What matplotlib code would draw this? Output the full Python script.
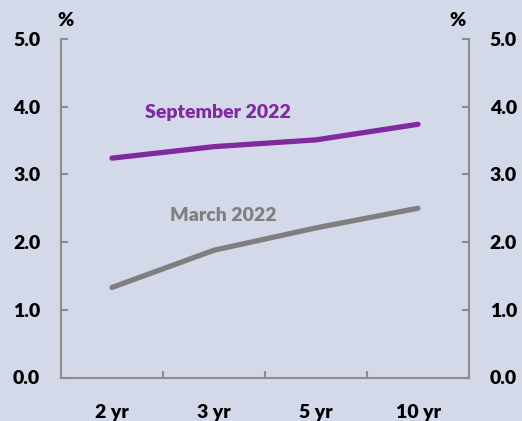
import matplotlib.pyplot as plt
import numpy as np

categories = ['2 yr', '3 yr', '5 yr', '10 yr']
sep_2022 = [3.24, 3.41, 3.51, 3.74]
mar_2022 = [1.33, 1.88, 2.21, 2.50]
yticks = [0, 1, 2, 3, 4, 5]

bg = '#d4d9ea'
purple = '#7f2a9f'
grey = '#7f7f7f'
axis_col = '#8c8c8c'

plt.rcParams['font.family'] = ['Lato', 'DejaVu Sans']
plt.rcParams['font.weight'] = 'heavy'

fig = plt.figure(figsize=(5.22, 4.21), dpi=100, facecolor=bg)
ax = fig.add_axes([61 / 522, 1 - 377.5 / 421, (469 - 61) / 522, (377.5 - 39) / 421])
ax.set_facecolor(bg)

x = np.arange(len(categories))
ax.plot(x, sep_2022, color=purple, lw=3.8, solid_capstyle='round')
ax.plot(x, mar_2022, color=grey, lw=3.8, solid_capstyle='round')

ax.set_xlim(-0.5, 3.5)
ax.set_ylim(0, 5)

ax.spines['top'].set_visible(False)
for s in ['left', 'right', 'bottom']:
    ax.spines[s].set_color(axis_col)
    ax.spines[s].set_linewidth(1.5)

ax.set_yticks(yticks, [f'{v:.1f}' for v in yticks])
ax.tick_params(axis='y', direction='in', length=5, width=1.5, color=axis_col,
               left=True, right=True, labelleft=True, labelright=True,
               labelsize=14, pad=15)
ax.set_xticks(x, categories)
ax.set_xticks([0.5, 1.5, 2.5], minor=True)
ax.tick_params(axis='x', which='major', length=0, labelsize=14, pad=19)
ax.tick_params(axis='x', which='minor', direction='in', length=5, width=1.5, color=axis_col)
for t in ax.yaxis.get_major_ticks():
    t.label1.set_fontweight('heavy')
    t.label2.set_fontweight('heavy')
for lab in ax.get_xticklabels():
    lab.set_fontweight('heavy')

ax.annotate('%', xy=(0, 1), xycoords='axes fraction', xytext=(3, 7),
            textcoords='offset points', ha='center', va='bottom',
            fontsize=14, fontweight='heavy')
ax.annotate('%', xy=(1, 1), xycoords='axes fraction', xytext=(-8, 7),
            textcoords='offset points', ha='center', va='bottom',
            fontsize=14, fontweight='heavy')

ax.text(1.04, 3.92, 'September 2022', color=purple, ha='center', va='center',
        fontsize=14, fontweight='heavy')
ax.text(1.09, 2.40, 'March 2022', color=grey, ha='center', va='center',
        fontsize=14, fontweight='heavy')

fig.savefig('out.png', dpi=100, facecolor=bg)
